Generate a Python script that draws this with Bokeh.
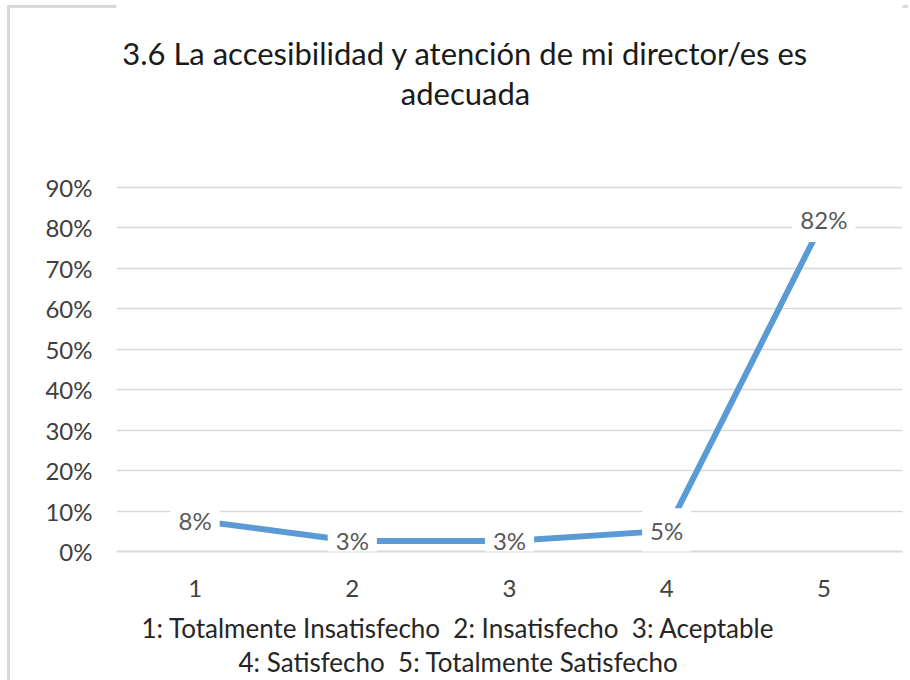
from bokeh.plotting import figure
from bokeh.models import Range1d, Label, Title, FixedTicker, NumeralTickFormatter
from bokeh.embed import file_html
from bokeh.resources import INLINE

# ---- data ----
categories = [1, 2, 3, 4, 5]
values = [0.077, 0.026, 0.026, 0.051, 0.821]
value_labels = ["8%", "3%", "3%", "5%", "82%"]
y_ticks = [0.0, 0.1, 0.2, 0.3, 0.4, 0.5, 0.6, 0.7, 0.8, 0.9]
title_lines = ["3.6 La accesibilidad y atención de mi director/es es", "adecuada"]
axis_title_lines = ["1: Totalmente Insatisfecho\u00a0\u00a02: Insatisfecho\u00a0\u00a03: Aceptable",
                    "4: Satisfecho\u00a0\u00a05: Totalmente Satisfecho"]

FONT = "Lato"
W, H = 908, 680
FRAME_LEFT, FRAME_RIGHT = 116, 902
ZERO_PX, TOP_TICK_PX = 551, 187          # pixel rows of 0% and 90%
px_per_unit = (ZERO_PX - TOP_TICK_PX) / 0.9
y_top = ZERO_PX / px_per_unit            # frame reaches the top of the canvas


def py_to_y(py):
    return (ZERO_PX - py) / px_per_unit


def px_to_x(px):
    return 0.5 + (px - FRAME_LEFT) / (FRAME_RIGHT - FRAME_LEFT) * 5


p = figure(width=W, height=H, output_backend="svg", toolbar_location=None,
           title=None,
           x_range=Range1d(0.5, 5.5), y_range=Range1d(0, y_top),
           min_border_left=FRAME_LEFT, min_border_right=W - FRAME_RIGHT,
           min_border_top=0, min_border_bottom=H - ZERO_PX)

p.outline_line_color = None
p.background_fill_color = "white"
p.border_fill_color = None
p.styles = {
    "background": "linear-gradient(#d9d9d9, #d9d9d9) 7px 5px / 3px 100% no-repeat, "
                  "linear-gradient(#d9d9d9, #d9d9d9) 7px 5px / 100% 3px no-repeat, white"
}

# y axis
p.yaxis.ticker = FixedTicker(ticks=y_ticks)
p.yaxis.formatter = NumeralTickFormatter(format="0%")
p.yaxis.axis_line_color = None
p.yaxis.major_tick_line_color = None
p.yaxis.minor_tick_line_color = None
p.yaxis.major_tick_out = 0
p.yaxis.major_tick_in = 0
p.yaxis.major_label_standoff = 24
p.yaxis.major_label_text_font = FONT
p.yaxis.major_label_text_font_size = "24px"
p.yaxis.major_label_text_color = "#404040"

# x axis
p.xaxis.ticker = FixedTicker(ticks=categories)
p.xaxis.major_label_overrides = {c: str(c) for c in categories}
p.xaxis.axis_line_color = "#d9d9d9"
p.xaxis.axis_line_width = 2
p.xaxis.major_tick_line_color = None
p.xaxis.minor_tick_line_color = None
p.xaxis.major_tick_out = 0
p.xaxis.major_tick_in = 0
p.xaxis.major_label_standoff = 28
p.xaxis.major_label_text_font = FONT
p.xaxis.major_label_text_font_size = "24px"
p.xaxis.major_label_text_color = "#404040"

p.xgrid.grid_line_color = None
p.ygrid.ticker = FixedTicker(ticks=y_ticks)
p.ygrid.grid_line_color = "#d9d9d9"
p.ygrid.grid_line_width = 1.5

# line
p.line(categories, values, line_color="#5b9bd5", line_width=6)

# data labels
for xc, v, t in zip(categories, values, value_labels):
    p.add_layout(Label(x=xc, y=v, text=t, text_align="center", text_baseline="middle",
                       text_font=FONT, text_font_size="24px", text_color="#595959",
                       background_fill_color="white", padding=8))

# title (two centred lines, inside the tall frame above the top tick)
for txt, ypx in zip(title_lines, [52, 92]):
    p.add_layout(Label(x=px_to_x(465), y=py_to_y(ypx), text=txt,
                       text_align="center", text_baseline="middle",
                       text_font=FONT, text_font_size="31px", text_color="#1a1a1a"))

# axis title lines below the x axis
spacer = Title(text="\u00a0", text_font_size="1px", standoff=9)
p.add_layout(spacer, "below")
for txt, off in zip(axis_title_lines, [25, 122]):
    p.add_layout(Title(text=txt, align="left", offset=off, standoff=0,
                       vertical_align="top",
                       text_font=FONT, text_font_size="26px", text_font_style="normal",
                       text_color="#262626", text_line_height=1.0), "below")

open("out.html", "w").write(file_html(p, INLINE))
